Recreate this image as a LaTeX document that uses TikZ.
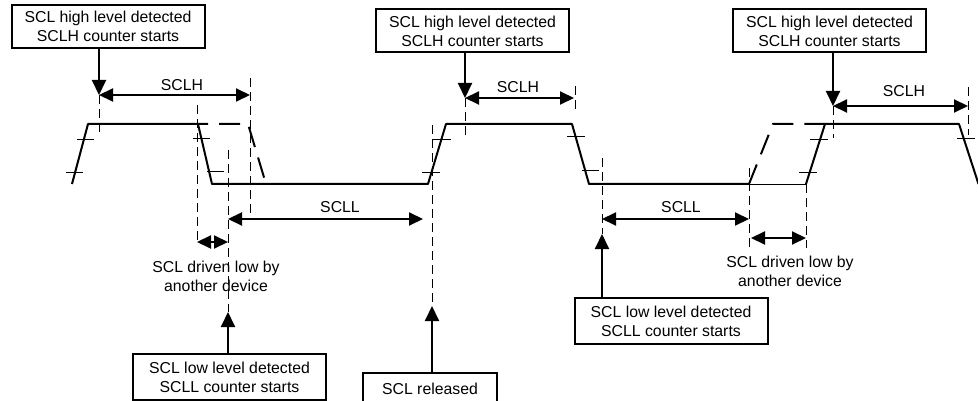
\documentclass[tikz,border=0pt]{standalone}
\usepackage{fontspec}
\setmainfont{Liberation Sans}
\usepackage{tikz}
\usetikzlibrary{arrows.meta}

\begin{document}
\begin{tikzpicture}[x=1pt, y=-1pt,
    font=\fontsize{15.8}{19}\selectfont,
    sig/.style={line width=2pt, line join=round},
    ghost/.style={line width=2pt, dash pattern=on 21pt off 11pt},
    guide/.style={line width=0.9pt, dash pattern=on 9pt off 5pt},
    tick/.style={line width=0.9pt},
    note/.style={draw, line width=2pt, align=center, inner sep=0pt,
        minimum width=193pt, minimum height=43pt},
    span/.style={line width=2pt,
        {Triangle[length=14pt, width=13pt]}-{Triangle[length=14pt, width=13pt]}},
    callout/.style={line width=2pt, -{Triangle[length=15pt, width=14pt]}}]

            % 画布
            \useasboundingbox (0,0) rectangle (978,401);
            \clip (0,0) rectangle (978,401);

            % 箭头端点
            \coordinate (h1a) at (99,95);
            \coordinate (h1b) at (250,95);
            \coordinate (h2a) at (465,98);
            \coordinate (h2b) at (574,98);
            \coordinate (h3a) at (833,106);
            \coordinate (h3b) at (968,106);
            \coordinate (l1a) at (228,219);
            \coordinate (l1b) at (423,219);
            \coordinate (l2a) at (602,219);
            \coordinate (l2b) at (749,219);
            \coordinate (v1a) at (197,242);
            \coordinate (v1b) at (228,242);
            \coordinate (v2a) at (751,238);
            \coordinate (v2b) at (806,238);
            \coordinate (c1) at (228,312);
            \coordinate (c2) at (602,234);
            \coordinate (c3) at (432,306);

            % 虚线
            \draw[guide] (h1a) -- (99,135);
            \draw[guide] (250,78) -- (250,215);
            \draw[guide] (197,105) -- (197,240);
            \draw[guide] (228,150) -- (c1);
            \draw[guide] (432,125) -- (c3);
            \draw[guide] (h2a) -- (465,137);
            \draw[guide] (575,86) -- (575,113);
            \draw[guide] (602,158) -- (c2);
            \draw[guide] (749,168) -- (749,248);
            \draw[guide] (806,184) -- (806,248);
            \draw[guide] (h3a) -- (833,138);
            \draw[guide] (968,87) -- (968,135);

            % SCL 波形
            \draw[sig] (72,184) -- (88,124) -- (198,124) -- (212,184)
                -- (428,184) -- (446,124) -- (572,124) -- (589,184) -- (749,184);
            \draw[tick] (749,184) -- (806,184);
            \draw[sig] (806,184) -- (825,124) -- (959,124) -- (978.5,184);

            % 被拉低时的波形
            \draw[ghost, dash phase=11pt] (198,124) -- (248,124) -- (266,184);
            \draw[ghost] (749,184) -- (773,124) -- (825,124);

            % 边沿刻度
            \draw[tick] (77,139) -- (94,139);
            \draw[tick] (66,172) -- (83,172);
            \draw[tick] (193,138) -- (210,138);
            \draw[tick] (207,171) -- (224,171);
            \draw[tick] (433,139) -- (451,139);
            \draw[tick] (422,172) -- (440,172);
            \draw[tick] (567,136) -- (585,136);
            \draw[tick] (582,170) -- (599,170);
            \draw[tick] (810,139) -- (828,139);
            \draw[tick] (799,172) -- (817,172);
            \draw[tick] (957,138) -- (975,138);

            % 说明框
            \node[note] (hi1) at (108,26.5) {SCL high level detected\\SCLH counter starts};
            \node[note] (hi2) at (472.5,31) {SCL high level detected\\SCLH counter starts};
            \node[note] (hi3) at (829.5,31) {SCL high level detected\\SCLH counter starts};
            \node[note, minimum height=46pt] (lo1) at (229.5,377) {SCL low level detected\\SCLL counter starts};
            \node[note, minimum height=46pt] (lo2) at (671,321) {SCL low level detected\\SCLL counter starts};
            \node[note, minimum width=134pt, minimum height=32pt] (rel) at (430,389) {SCL released};

            % 指示箭头
            \draw[callout] (hi1.south -| h1a) -- (h1a);
            \draw[callout] (hi2.south -| h2a) -- (h2a);
            \draw[callout] (hi3.south -| h3a) -- (h3a);
            \draw[callout] (lo1.north -| c1) -- (c1);
            \draw[callout] (lo2.north -| c2) -- (c2);
            \draw[callout] (rel.north -| c3) -- (c3);

            % 时间区间
            \draw[span] (h1a) -- (h1b);
            \draw[span] (h2a) -- (h2b);
            \draw[span] (h3a) -- (h3b);
            \draw[span] (l1a) -- (l1b);
            \draw[span] (l2a) -- (l2b);
            \draw[span] (v1a) -- (v1b);
            \draw[span] (v2a) -- (v2b);

            % 标注
            \node (th1) at (182,85) {SCLH};
            \node (th2) at (518,87) {SCLH};
            \node (th3) at (904,91) {SCLH};
            \node (tl1) at (340,207) {SCLL};
            \node (tl2) at (681,207) {SCLL};
            \node[align=center] (dr1) at (216,276) {SCL driven low by\\another device};
            \node[align=center] (dr2) at (790,271) {SCL driven low by\\another device};

        \end{tikzpicture}
\end{document}
